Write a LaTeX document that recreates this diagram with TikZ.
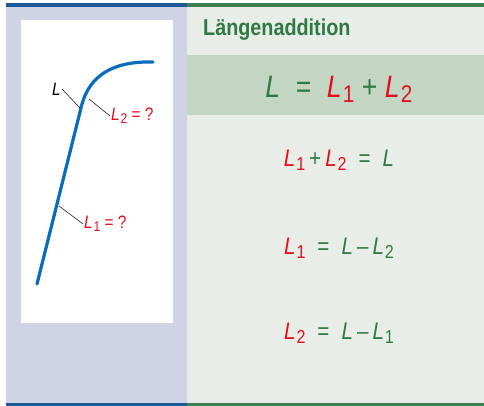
\documentclass[tikz,border=0pt]{standalone}
\usepackage{fontspec}
\setmainfont{Liberation Sans}[FakeStretch=0.86]
\usepackage{xcolor}
\usepackage{tikz}
\usetikzlibrary{calc,positioning}

\definecolor{barblue}{HTML}{1B5A96}
\definecolor{bargreen}{HTML}{3D7F50}
\definecolor{panelgray}{HTML}{D0D3E5}
\definecolor{panegreen}{HTML}{E8EDE8}
\definecolor{bandgreen}{HTML}{C3D6C3}
\definecolor{txtgreen}{HTML}{2F7A44}
\definecolor{txtred}{HTML}{E3101E}
\definecolor{curveblue}{HTML}{0A6CBB}

% length symbol with lowered subscript
\newcommand{\Lvar}[1]{\textit{L}\kern0.04em\raisebox{-0.32ex}{\scalebox{0.78}{#1}}}

\tikzset{
  leader/.style={black, line width=0.5pt},
  formula/.style={font=\fontsize{24}{28}\selectfont, inner sep=0pt},
  sketchlabel/.style={font=\fontsize{18}{21}\selectfont, inner sep=1pt}
}

\begin{document}
\begin{tikzpicture}[x=1pt, y=-1pt, line cap=round, line join=round]
\useasboundingbox (0,0) rectangle (484,406);

% ---------------------------------------------------------
% Panels
% ---------------------------------------------------------
\fill[panelgray] (6,7) rectangle (187,403);
\fill[panegreen] (187,7) rectangle (484,403);
\fill[bandgreen] (187,55) rectangle (484,115);
\fill[white] (21,20) rectangle (173,323);

% top and bottom bars
\fill[barblue]  (6,3) rectangle (187,7);
\fill[bargreen] (187,3) rectangle (484,7);
\fill[barblue]  (6,403) rectangle (187,406);
\fill[bargreen] (187,403) rectangle (484,406);

% ---------------------------------------------------------
% Sketch: straight part and bend
% ---------------------------------------------------------
\coordinate (A) at (37,284);     % lower end
\coordinate (B) at (82,104);     % start of bend
\coordinate (E) at (153,62);     % upper end

\draw[curveblue, line width=3.2pt]
    (A) -- (B) .. controls (90,76) and (112,61) .. (E);

% leader lines
\coordinate (Lend)  at (80,108);
\coordinate (L2end) at (89,99);
\coordinate (L1end) at (59,206);

\node[sketchlabel, anchor=east] (Lt) at (62,89) {\textit{L}};
\draw[leader] (Lt.east) -- (Lend);

\node[sketchlabel, anchor=west, text=txtred] (L2t) at (110,116) {\Lvar{2} = ?};
\draw[leader] (L2end) -- (L2t.west);

\node[sketchlabel, anchor=west, text=txtred] (L1t) at (83,224) {\Lvar{1} = ?};
\draw[leader] (L1end) -- (L1t.west);

% ---------------------------------------------------------
% Title and formulas
% ---------------------------------------------------------
\node[anchor=west, text=txtgreen, inner sep=0pt,
      font=\fontsize{23}{26}\selectfont\bfseries] (title) at (203,30) {Längenaddition};

\node[formula, font=\fontsize{31}{34}\selectfont, text=txtgreen] (main) at (339,89)
    {\textit{L}\enspace=\enspace\textcolor{txtred}{\Lvar{1}} + \textcolor{txtred}{\Lvar{2}}};

\node[formula, text=txtgreen] (sum) at (339,160)
    {\textcolor{txtred}{\Lvar{1}}\,+\,\textcolor{txtred}{\Lvar{2}}\enspace=\enspace\textit{L}};

\node[formula, text=txtgreen] (one) at (339,248)
    {\textcolor{txtred}{\Lvar{1}}\enspace=\enspace\textit{L}\,--\,\Lvar{2}};

\node[formula, text=txtgreen] (two) at (339,333)
    {\textcolor{txtred}{\Lvar{2}}\enspace=\enspace\textit{L}\,--\,\Lvar{1}};

\end{tikzpicture}
\end{document}
